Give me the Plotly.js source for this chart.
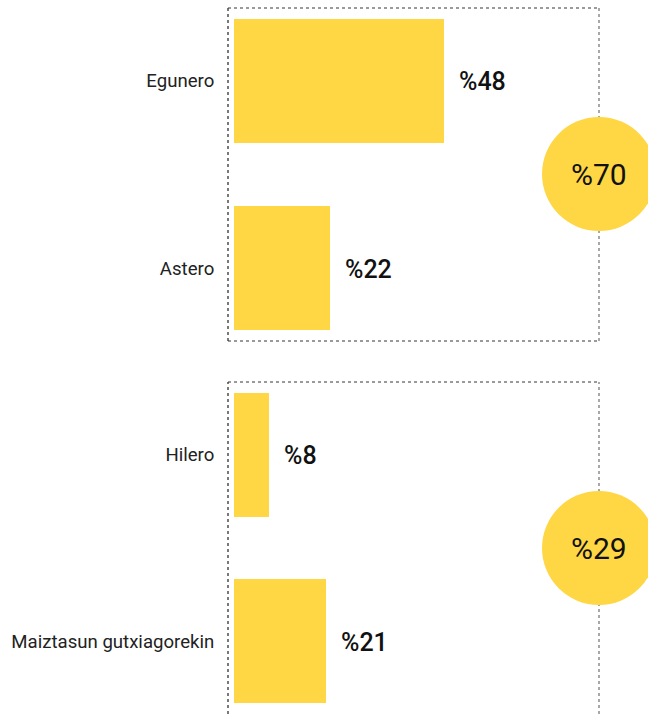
<!DOCTYPE html>
<html>
<head>
<meta charset="utf-8">
<script src="https://cdn.plot.ly/plotly-3.0.1.min.js"></script>
<style>html,body{margin:0;padding:0;background:#fff;}#chart{width:648px;height:714px;}</style>
</head>
<body>
<div id="chart"></div>
<script>
// Data
const topCategories = ["Egunero", "Astero"];
const topValues = [48, 22];
const topTotal = 70;
const bottomCategories = ["Hilero", "Maiztasun gutxiagorekin"];
const bottomValues = [8, 21];
const bottomTotal = 29;

const barColor = "#FFD644";
const font = "Roboto, 'Noto Sans', sans-serif";
const W = 648, H = 714;

const traces = [
  {type: "bar", orientation: "h", y: topCategories, x: topValues, xaxis: "x", yaxis: "y",
   marker: {color: barColor}, width: 0.663, hoverinfo: "none"},
  {type: "bar", orientation: "h", y: bottomCategories, x: bottomValues, xaxis: "x2", yaxis: "y2",
   marker: {color: barColor}, width: 0.663, hoverinfo: "none"}
];

const xDomain = [228 / W, 599 / W];
const xRange = [-1.38, 83.6];
const topDom = [1 - 341 / H, 1 - 8 / H];
const botDom = [0, 1 - 382 / H];

function yax(domain) {
  return {domain: domain, range: [1.39, -0.39], showgrid: false, zeroline: false, showline: false,
    ticks: "outside", ticklen: 9, tickcolor: "rgba(0,0,0,0)",
    tickfont: {family: font, size: 18.6, color: "#222"}, fixedrange: true};
}
function xax(domain, anchor) {
  return {domain: domain, range: xRange, anchor: anchor, showgrid: false, zeroline: false,
    showline: false, showticklabels: false, ticks: "", fixedrange: true};
}

const annotations = [];
function addLabels(cats, vals, xr, yr) {
  cats.forEach((c, i) => {
    annotations.push({x: vals[i], y: c, xref: xr, yref: yr, text: "%" + vals[i],
      showarrow: false, xanchor: "left", yanchor: "middle", xshift: 13, yshift: -1,
      font: {family: font, size: 25, color: "#111", weight: 500}});
  });
}
addLabels(topCategories, topValues, "x", "y");
addLabels(bottomCategories, bottomValues, "x2", "y2");

const shapes = [];
function box(xr, yr, hasBottom) {
  const grey = {color: "#7a7a7a", width: 1.3, dash: "dot"};
  const dark = {color: "#333", width: 1.3, dash: "dot"};
  shapes.push({type: "line", xref: xr + " domain", yref: yr + " domain", x0: 0, x1: 1, y0: 1, y1: 1, line: grey});
  if (hasBottom) shapes.push({type: "line", xref: xr + " domain", yref: yr + " domain", x0: 0, x1: 1, y0: 0, y1: 0, line: grey});
  shapes.push({type: "line", xref: xr + " domain", yref: yr + " domain", x0: 1, x1: 1, y0: 0, y1: 1, line: grey});
  shapes.push({type: "line", xref: xr + " domain", yref: yr + " domain", x0: 0, x1: 0, y0: 0, y1: 1, line: dark});
}
box("x", "y", true);
box("x2", "y2", false);

function circle(cy, total) {
  shapes.push({type: "circle", xref: "paper", yref: "paper", xsizemode: "pixel", ysizemode: "pixel",
    xanchor: 599 / W, yanchor: 1 - cy / H, x0: -57, x1: 57, y0: -57, y1: 57,
    fillcolor: barColor, line: {width: 0}, layer: "above"});
  annotations.push({x: 599 / W, y: 1 - cy / H, xref: "paper", yref: "paper", text: "%" + total,
    showarrow: false, xanchor: "center", yanchor: "middle",
    font: {family: font, size: 30, color: "#111"}});
}
circle(174, topTotal);
circle(548, bottomTotal);

const layout = {
  width: W, height: H, margin: {l: 0, r: 0, t: 0, b: 0},
  paper_bgcolor: "#fff", plot_bgcolor: "rgba(0,0,0,0)", showlegend: false,
  bargap: 0,
  xaxis: xax(xDomain, "y"), yaxis: yax(topDom),
  xaxis2: xax(xDomain, "y2"), yaxis2: Object.assign(yax(botDom), {anchor: "x2"}),
  shapes: shapes, annotations: annotations
};
layout.yaxis.anchor = "x";

Plotly.newPlot("chart", traces, layout, {displayModeBar: false, staticPlot: true});
</script>
</body>
</html>
